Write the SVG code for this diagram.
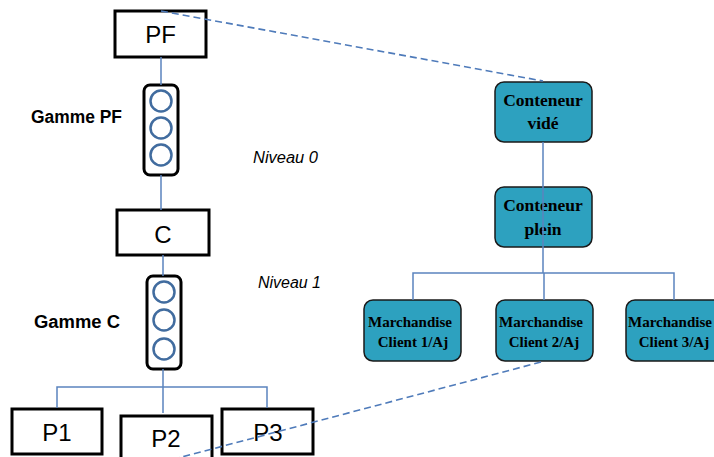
<svg xmlns="http://www.w3.org/2000/svg" width="714" height="457" viewBox="0 0 714 457">
<style>
.box{fill:#fff;stroke:#000;stroke-width:3}
.tl{fill:#fff;stroke:#000;stroke-width:3}
.dot{fill:#fff;stroke:#416C9F;stroke-width:2.5}
.teal{fill:#2DA1BF;stroke:#1a1a1a;stroke-width:1.5}
.big{font-family:"Liberation Sans",Arial,sans-serif;font-size:24px;text-anchor:middle;fill:#000}
.lbl{font-family:"Liberation Sans",Arial,sans-serif;font-size:17.5px;font-weight:bold;fill:#000}
.niv{font-family:"Liberation Sans",Arial,sans-serif;font-size:16px;font-style:italic;fill:#000}
.ct{font-family:"Liberation Serif","Times New Roman",serif;font-size:17.5px;font-weight:bold;text-anchor:middle;fill:#000}
.mt{font-family:"Liberation Serif","Times New Roman",serif;font-size:15px;font-weight:bold;text-anchor:middle;fill:#000}
.ln{fill:none;stroke:#5B84BE;stroke-width:1.5}
.dash{fill:none;stroke:#4F7BBA;stroke-width:1.6;stroke-dasharray:7 4}
</style>
<rect width="714" height="457" fill="#fff"/>
<g id="PF"><rect class="box" x="115" y="11" width="91" height="46"/><text class="big" x="160.5" y="43">PF</text></g>
<g id="gammePF"><rect class="tl" x="144" y="85" width="34" height="90" rx="6"/><circle class="dot" cx="161" cy="101" r="10.5"/><circle class="dot" cx="161" cy="128" r="10.5"/><circle class="dot" cx="161" cy="155" r="10.5"/></g>
<g id="C"><rect class="box" x="117" y="210" width="92" height="45"/><text class="big" x="163" y="243">C</text></g>
<g id="gammeC"><rect class="tl" x="147" y="276" width="34" height="93" rx="6"/><circle class="dot" cx="164" cy="292" r="10.5"/><circle class="dot" cx="164" cy="320" r="10.5"/><circle class="dot" cx="164" cy="349" r="10.5"/></g>
<g id="P1"><rect class="box" x="12" y="409" width="90" height="45"/><text class="big" x="57" y="441">P1</text></g>
<g id="P2"><rect class="box" x="121" y="416" width="91" height="50"/><text class="big" x="166" y="447">P2</text></g>
<g id="P3"><rect class="box" x="222" y="409" width="91" height="45"/><text class="big" x="268" y="441">P3</text></g>
<g id="labels">
<text class="lbl" x="31" y="123" textLength="91" lengthAdjust="spacingAndGlyphs">Gamme PF</text>
<text class="lbl" x="34" y="328" textLength="86" lengthAdjust="spacingAndGlyphs">Gamme C</text>
<text class="niv" x="253" y="163" textLength="65" lengthAdjust="spacingAndGlyphs">Niveau 0</text>
<text class="niv" x="258" y="288" textLength="63" lengthAdjust="spacingAndGlyphs">Niveau 1</text>
</g>
<g id="vide"><rect class="teal" x="495" y="82" width="97" height="60" rx="9"/><text class="ct" x="543" y="106">Conteneur</text><text class="ct" x="543" y="129">vidé</text></g>
<g id="plein"><rect class="teal" x="495" y="187" width="97" height="60" rx="9"/><text class="ct" x="543" y="211">Conteneur</text><text class="ct" x="543" y="235">plein</text></g>
<g id="M1"><rect class="teal" x="364" y="300" width="97" height="61" rx="9"/><text class="mt" x="410" y="327">Marchandise</text><text class="mt" x="413" y="347">Client 1/Aj</text></g>
<g id="M2"><rect class="teal" x="496" y="300" width="97" height="61" rx="9"/><text class="mt" x="541" y="327">Marchandise</text><text class="mt" x="544" y="347">Client 2/Aj</text></g>
<g id="M3"><rect class="teal" x="626" y="300" width="97" height="61" rx="9"/><text class="mt" x="670" y="327">Marchandise</text><text class="mt" x="674" y="347">Client 3/Aj</text></g>
<g id="connectors">
<path class="ln" d="M161 57V85M161 175V210M163 255V276M163 369V413M57 408V387H267V408"/>
<path class="ln" d="M543 142V273M413 300V273H674V300M544 273V300"/>
<path class="dash" d="M161 11L543 81"/>
<path class="dash" d="M541 362L178 458"/>
</g>
</svg>
